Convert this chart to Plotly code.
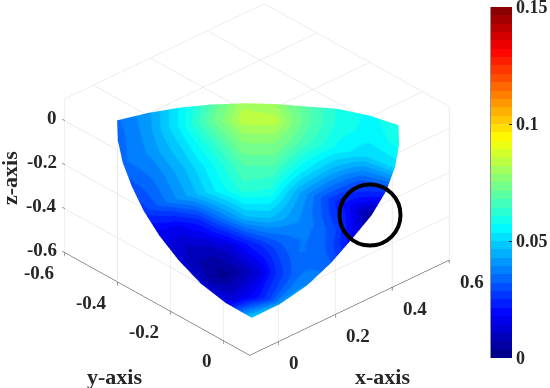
import numpy as np
import plotly.graph_objects as go

# angular grid of the measured surface (degrees below the z=0 plane, degrees from +x towards -y)
elevation_deg = [0, 10, 20, 30, 40, 50, 60, 70, 80, 90]
azimuth_deg = [0, 10, 20, 30, 40, 50, 60, 70, 80, 90]

radius = [
    [.515, .50, .485, .465, .46, .46, .465, .475, .49, .51],
    [.525, .51, .495, .48, .475, .475, .48, .49, .50, .515],
    [.535, .52, .51, .495, .49, .49, .495, .50, .51, .52],
    [.545, .53, .52, .51, .505, .505, .51, .515, .52, .525],
    [.548, .54, .53, .525, .52, .52, .525, .53, .53, .535],
    [.545, .545, .54, .535, .535, .535, .535, .54, .54, .545],
    [.555, .55, .55, .545, .545, .545, .545, .55, .55, .555],
    [.565, .56, .555, .555, .555, .555, .555, .555, .56, .565],
    [.565, .56, .56, .56, .56, .56, .56, .56, .56, .565],
    [.558, .558, .558, .558, .558, .558, .558, .558, .558, .558],
]

value = [
    [.059, .056, .060, .069, .079, .081, .068, .054, .042, .035],
    [.058, .055, .059, .069, .084, .084, .070, .054, .041, .034],
    [.051, .050, .056, .065, .076, .076, .063, .050, .040, .035],
    [.027, .032, .044, .056, .068, .068, .057, .046, .037, .031],
    [.004, .018, .031, .044, .060, .062, .054, .044, .036, .027],
    [.018, .030, .036, .041, .047, .046, .036, .023, .016, .015],
    [.033, .035, .036, .032, .027, .021, .013, .009, .008, .012],
    [.040, .036, .030, .024, .014, .009, .005, .002, .005, .012],
    [.042, .034, .028, .024, .020, .018, .016, .014, .014, .016],
    [.050, .050, .050, .050, .050, .050, .050, .050, .050, .050],
]

x_ticks = [0, 0.2, 0.4, 0.6]
y_ticks = [-0.6, -0.4, -0.2, 0]
z_ticks = [-0.6, -0.4, -0.2, 0]
x_range = [-0.1, 0.6]
y_range = [-0.6, 0.1]
z_range = [-0.6, 0.1]
cbar_ticks = [0, 0.05, 0.1, 0.14999]
cbar_labels = ["0", "0.05", "0.1", "0.15"]

jet_anchor_pos = [0, 0.125, 0.375, 0.625, 0.875, 1]
jet_anchor_rgb = [(0, 0, 127), (0, 0, 255), (0, 255, 255), (255, 255, 0), (255, 0, 0), (127, 0, 0)]
LEVELS = 42


def stepped_jet(n):
    scale = []
    for i in range(n):
        mid = (i + 0.5) / n
        rgb = [int(np.interp(mid, jet_anchor_pos, [c[k] for c in jet_anchor_rgb])) for k in range(3)]
        col = f"rgb({rgb[0]},{rgb[1]},{rgb[2]})"
        scale.append([i / n, col])
        scale.append([(i + 1) / n, col])
    return scale


el = np.radians(elevation_deg)[:, None]
az = np.radians(azimuth_deg)[None, :]
r = np.array(radius)
X = r * np.cos(el) * np.cos(az)
Y = -r * np.cos(el) * np.sin(az)
Z = -r * np.sin(el) * np.ones_like(az)

TICK_FONT = dict(family="Liberation Serif", size=19, color="#262626", weight="bold")
CBAR_FONT = dict(family="Liberation Serif", size=18, color="#262626", weight="bold")
TITLE_FONT = dict(family="Liberation Serif", size=22, color="#262626", weight="bold")


def axis(ticks, rng, line):
    return dict(
        range=rng, tickvals=ticks,
        autorange=False, title=dict(text=""), showbackground=False,
        showgrid=True, gridcolor="#d9d9d9", gridwidth=1, zeroline=False,
        showline=line, linecolor="#262626", linewidth=1,
        ticks="outside", ticklen=4, tickcolor="#262626", showticklabels=False,
        showspikes=False,
    )


def tick_note(x, y, z, text, anchor, dx, dy):
    return dict(x=x, y=y, z=z, text=text, showarrow=False, font=TICK_FONT,
                xanchor=anchor, yanchor="middle", xshift=dx, yshift=dy)


scene_notes = (
    [tick_note(t, y_range[1], z_range[0], f"{t:g}", "left", 9, -21) for t in x_ticks]
    + [tick_note(x_range[0], t, z_range[0], f"{t:g}", "right", -9, -20) for t in y_ticks]
    + [tick_note(x_range[0], y_range[0], t, f"{t:g}", "right", -6, 3) for t in z_ticks]
)

fig = go.Figure(go.Surface(
    x=X, y=Y, z=Z, surfacecolor=np.array(value),
    colorscale=stepped_jet(LEVELS), cmin=0, cmax=0.15,
    lighting=dict(ambient=1, diffuse=0, specular=0, roughness=1, fresnel=0),
    hoverinfo="skip",
    colorbar=dict(
        x=491 / 550, xanchor="left", y=1 - 358 / 388, yanchor="bottom",
        len=351 / 388, lenmode="fraction", thickness=21, thicknessmode="pixels",
        tickvals=cbar_ticks, ticktext=cbar_labels, ticks="inside", ticklen=3,
        tickcolor="#262626", tickfont=CBAR_FONT, outlinewidth=0, xpad=0, ypad=0,
        ticklabeloverflow="allow",
    ),
))

k = 1.12
s = 1.515
fig.update_layout(
    width=550, height=388, margin=dict(l=0, r=0, t=0, b=0, autoexpand=False),
    paper_bgcolor="white", showlegend=False,
    scene=dict(
        domain=dict(x=[0, 514 / 550], y=[1 - 359 / 388, 1]),
        xaxis=axis(x_ticks, x_range, True),
        yaxis=axis(y_ticks, y_range, True),
        zaxis=axis(z_ticks, z_range, False),
        aspectmode="manual", aspectratio=dict(x=s, y=s, z=0.66 * s),
        camera=dict(
            projection=dict(type="orthographic"),
            eye=dict(x=0.583 * k, y=-0.629 * k, z=-0.515 * k),
            up=dict(x=0, y=0, z=1), center=dict(x=0, y=0, z=0),
        ),
        annotations=scene_notes,
    ),
    shapes=[
        dict(type="circle", xref="paper", yref="paper",
             x0=339.5 / 550, x1=400.5 / 550, y0=1 - 245.5 / 388, y1=1 - 184.5 / 388,
             line=dict(color="black", width=4), layer="above"),
        dict(type="line", xref="paper", yref="paper",
             x0=491 / 550, x1=491 / 550, y0=1 - 358 / 388, y1=1 - 7 / 388,
             line=dict(color="#262626", width=1), layer="above"),
    ],
    annotations=[
        dict(text="x-axis", xref="paper", yref="paper", x=382 / 550, y=1 - 376 / 388,
             showarrow=False, font=TITLE_FONT, xanchor="center", yanchor="middle"),
        dict(text="y-axis", xref="paper", yref="paper", x=114 / 550, y=1 - 376 / 388,
             showarrow=False, font=TITLE_FONT, xanchor="center", yanchor="middle"),
        dict(text="z-axis", xref="paper", yref="paper", x=10 / 550, y=1 - 178 / 388,
             showarrow=False, font=TITLE_FONT, textangle=-90, xanchor="center", yanchor="middle"),
    ],
)

fig.write_html("out.html", config=dict(displayModeBar=False),
               post_script="document.body.style.margin='0';")
